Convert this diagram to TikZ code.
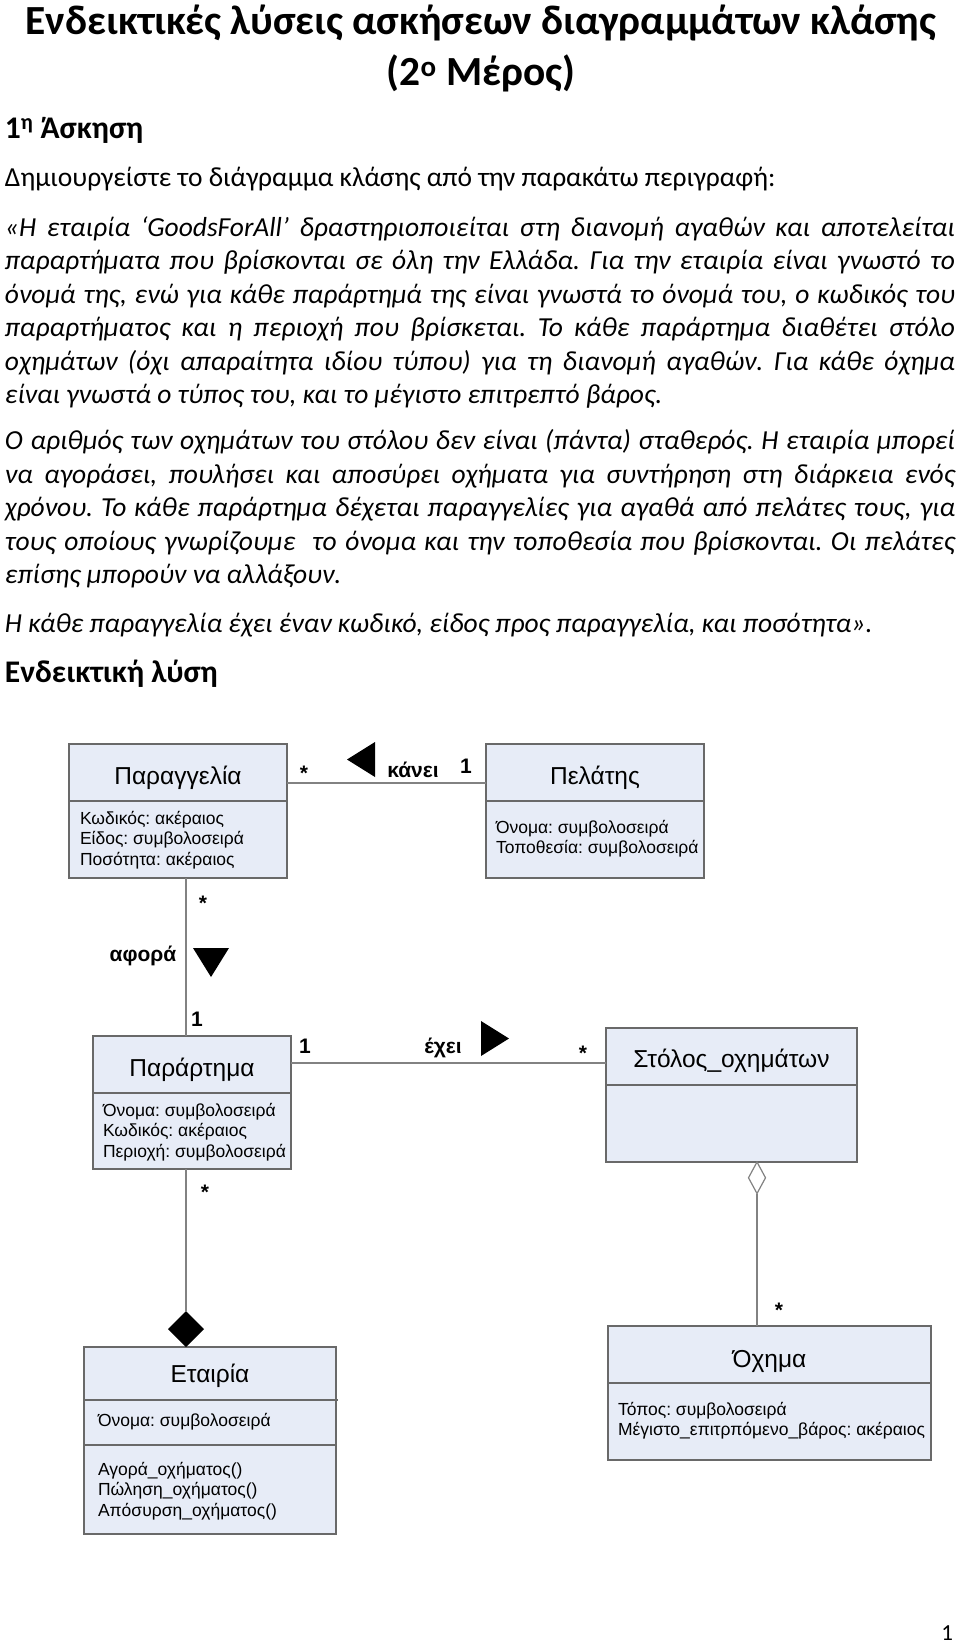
\documentclass[tikz,border=0pt]{standalone}
\usepackage{fontspec}
\usetikzlibrary{shapes.geometric}
\setmainfont{Carlito}
\newfontfamily\arialf{Liberation Sans}
\definecolor{boxfill}{RGB}{231,236,247}
\definecolor{boxline}{RGB}{105,105,105}
\definecolor{connline}{RGB}{130,130,130}
\newcommand{\jl}[1]{\makebox[950pt][s]{#1}}
\newcommand{\attrs}[1]{\begin{tabular}[t]{@{}l@{}}#1\end{tabular}}
\frenchspacing
\begin{document}
\begin{tikzpicture}[x=1pt,y=-1pt,
  every node/.style={inner sep=0pt, outer sep=0pt},
  titlef/.style={font=\bfseries\fontsize{41.4}{50}\selectfont, anchor=base},
  headf/.style={font=\bfseries\fontsize{31.5}{36}\selectfont, anchor=base west},
  bodyf/.style={font=\fontsize{27.5}{33.5}\selectfont, anchor=base west},
  bodyi/.style={font=\itshape\fontsize{27.5}{33.5}\selectfont, anchor=base west},
  classbox/.style={draw=boxline, fill=boxfill, line width=1.2pt, anchor=north west},
  divider/.style={draw=boxline, line width=1.2pt},
  ctitle/.style={font=\arialf\fontsize{24.5}{29}\selectfont, anchor=base},
  cattr/.style={font=\arialf\fontsize{17.5}{20.8}\selectfont, anchor=base west},
  clabel/.style={font=\arialf\bfseries\fontsize{21}{25}\selectfont, anchor=base},
  conn/.style={draw=connline, line width=1.2pt},
  dirarrow/.style={fill=black}
]
\useasboundingbox (0,0) rectangle (960,1643);

% ---------- page text ----------
\node[titlef] (t1) at (481,34.6) {Ενδεικτικές λύσεις ασκήσεων διαγραμμάτων κλάσης};
\node[titlef] (t2) at (481,86) {(2\textsuperscript{ο} Μέρος)};
\node[headf] (h1) at (5,139) {1\textsuperscript{η} Άσκηση};
\node[bodyf] (d0) at (5,186.5) {Δημιουργείστε το διάγραμμα κλάσης από την παρακάτω περιγραφή:};

\node[bodyi] (p1a) at (5,236) {\jl{«Η εταιρία ‘GoodsForAll’ δραστηριοποιείται στη διανομή αγαθών και αποτελείται}};
\node[bodyi] (p1b) at (5,269.5) {\jl{παραρτήματα που βρίσκονται σε όλη την Ελλάδα. Για την εταιρία είναι γνωστό το}};
\node[bodyi] (p1c) at (5,303) {\jl{όνομά της, ενώ για κάθε παράρτημά της είναι γνωστά το όνομά του, ο κωδικός του}};
\node[bodyi] (p1d) at (5,336.5) {\jl{παραρτήματος και η περιοχή που βρίσκεται. Το κάθε παράρτημα διαθέτει στόλο}};
\node[bodyi] (p1e) at (5,370) {\jl{οχημάτων (όχι απαραίτητα ιδίου τύπου) για τη διανομή αγαθών. Για κάθε όχημα}};
\node[bodyi] (p1f) at (5,403.5) {είναι γνωστά ο τύπος του, και το μέγιστο επιτρεπτό βάρος.};

\node[bodyi] (p2a) at (5,449.6) {\jl{Ο αριθμός των οχημάτων του στόλου δεν είναι (πάντα) σταθερός. Η εταιρία μπορεί}};
\node[bodyi] (p2b) at (5,483.1) {\jl{να αγοράσει, πουλήσει και αποσύρει οχήματα για συντήρηση στη διάρκεια ενός}};
\node[bodyi] (p2c) at (5,516.6) {\jl{χρόνου. Το κάθε παράρτημα δέχεται παραγγελίες για αγαθά από πελάτες τους, για}};
\node[bodyi] (p2d) at (5,550.1) {\jl{τους οποίους γνωρίζουμε \ το όνομα και την τοποθεσία που βρίσκονται. Οι πελάτες}};
\node[bodyi] (p2e) at (5,583.6) {επίσης μπορούν να αλλάξουν.};

\node[bodyi] (p3a) at (5,632) {Η κάθε παραγγελία έχει έναν κωδικό, είδος προς παραγγελία, και ποσότητα».};

\node[headf] (h2) at (5,682) {Ενδεικτική λύση};

\node[font=\fontsize{23}{28}\selectfont, anchor=base east] (pg) at (953,1640) {1};

% ---------- classes ----------
% Παραγγελία
\node[classbox, minimum width=218pt, minimum height=134pt] (par) at (69,744) {};
\draw[divider] ([yshift=-57pt]par.north west) -- ([yshift=-57pt]par.north east);
\node[ctitle] (parT) at (178,784) {Παραγγελία};
\node[cattr] (parA) at (80,824) {\attrs{Κωδικός: ακέραιος\\Είδος: συμβολοσειρά\\Ποσότητα: ακέραιος}};

% Πελάτης
\node[classbox, minimum width=218pt, minimum height=134pt] (pel) at (486,744) {};
\draw[divider] ([yshift=-57pt]pel.north west) -- ([yshift=-57pt]pel.north east);
\node[ctitle] (pelT) at (595,784) {Πελάτης};
\node[cattr] (pelA) at (496,833) {\attrs{Όνομα: συμβολοσειρά\\Τοποθεσία: συμβολοσειρά}};

% Παράρτημα
\node[classbox, minimum width=198pt, minimum height=133pt] (prt) at (93,1036) {};
\draw[divider] ([yshift=-57pt]prt.north west) -- ([yshift=-57pt]prt.north east);
\node[ctitle] (prtT) at (192,1076) {Παράρτημα};
\node[cattr] (prtA) at (103,1116) {\attrs{Όνομα: συμβολοσειρά\\Κωδικός: ακέραιος\\Περιοχή: συμβολοσειρά}};

% Στόλος_οχημάτων
\node[classbox, minimum width=251pt, minimum height=134pt] (stl) at (606,1028) {};
\draw[divider] ([yshift=-57pt]stl.north west) -- ([yshift=-57pt]stl.north east);
\node[ctitle] (stlT) at (731.5,1067) {Στόλος\_οχημάτων};

% Όχημα
\node[classbox, minimum width=323pt, minimum height=134pt] (och) at (608,1326) {};
\draw[divider] ([yshift=-57pt]och.north west) -- ([yshift=-57pt]och.north east);
\node[ctitle] (ochT) at (769.5,1367) {Όχημα};
\node[cattr] (ochA) at (618,1415) {\attrs{Τόπος: συμβολοσειρά\\Μέγιστο\_επιτρπόμενο\_βάρος: ακέραιος}};

% Εταιρία
\node[classbox, minimum width=252pt, minimum height=187pt] (etr) at (84,1347) {};
\draw[divider] ([yshift=-53pt]etr.north west) -- ([yshift=-53pt,xshift=2pt]etr.north east);
\draw[divider] ([yshift=-98pt]etr.north west) -- ([yshift=-98pt]etr.north east);
\node[ctitle] (etrT) at (210,1382) {Εταιρία};
\node[cattr] (etrA) at (98,1426) {\attrs{Όνομα: συμβολοσειρά}};
\node[cattr] (etrM) at (98,1475) {\attrs{Αγορά\_οχήματος()\\Πώληση\_οχήματος()\\Απόσυρση\_οχήματος()}};

% ---------- connectors ----------
% κάνει
\draw[conn] ([yshift=-39pt]par.north east) -- ([yshift=-39pt]pel.north west);
\fill[dirarrow] (347,759.5) -- (375,742) -- (375,777) -- cycle;
\node[clabel] (m1) at (304,780) {*};
\node[clabel] (lk) at (413,777) {κάνει};
\node[clabel] (m2) at (466,773) {1};

% αφορά
\draw[conn] ([xshift=8pt]par.south) -- ([xshift=-6pt]prt.north);
\fill[dirarrow] (193,948) -- (229,948) -- (211,977) -- cycle;
\node[clabel] (m3) at (203,910) {*};
\node[clabel] (la) at (143,961) {αφορά};
\node[clabel] (m4) at (197,1026) {1};

% έχει
\draw[conn] ([yshift=-27pt]prt.north east) -- ([yshift=-35pt]stl.north west);
\fill[dirarrow] (481,1021) -- (509,1038.5) -- (481,1056) -- cycle;
\node[clabel] (m5) at (305,1053) {1};
\node[clabel] (le) at (443,1053) {έχει};
\node[clabel] (m6) at (583,1060) {*};

% aggregation Στόλος - Όχημα
\node[diamond, draw=connline, fill=white, line width=1.2pt, minimum width=17pt, minimum height=31.5pt, anchor=north] (agg) at (757,1162) {};
\draw[conn] (agg.south) -- (och.north -| agg.south);
\node[clabel] (m8) at (779,1317) {*};

% composition Παράρτημα - Εταιρία
\node[diamond, fill=black, minimum width=36pt, minimum height=36pt, anchor=south] (cmp) at (186,1347) {};
\draw[conn] ([xshift=-6pt]prt.south) -- (cmp.north);
\node[clabel] (m7) at (205,1199) {*};
\end{tikzpicture}
\end{document}
